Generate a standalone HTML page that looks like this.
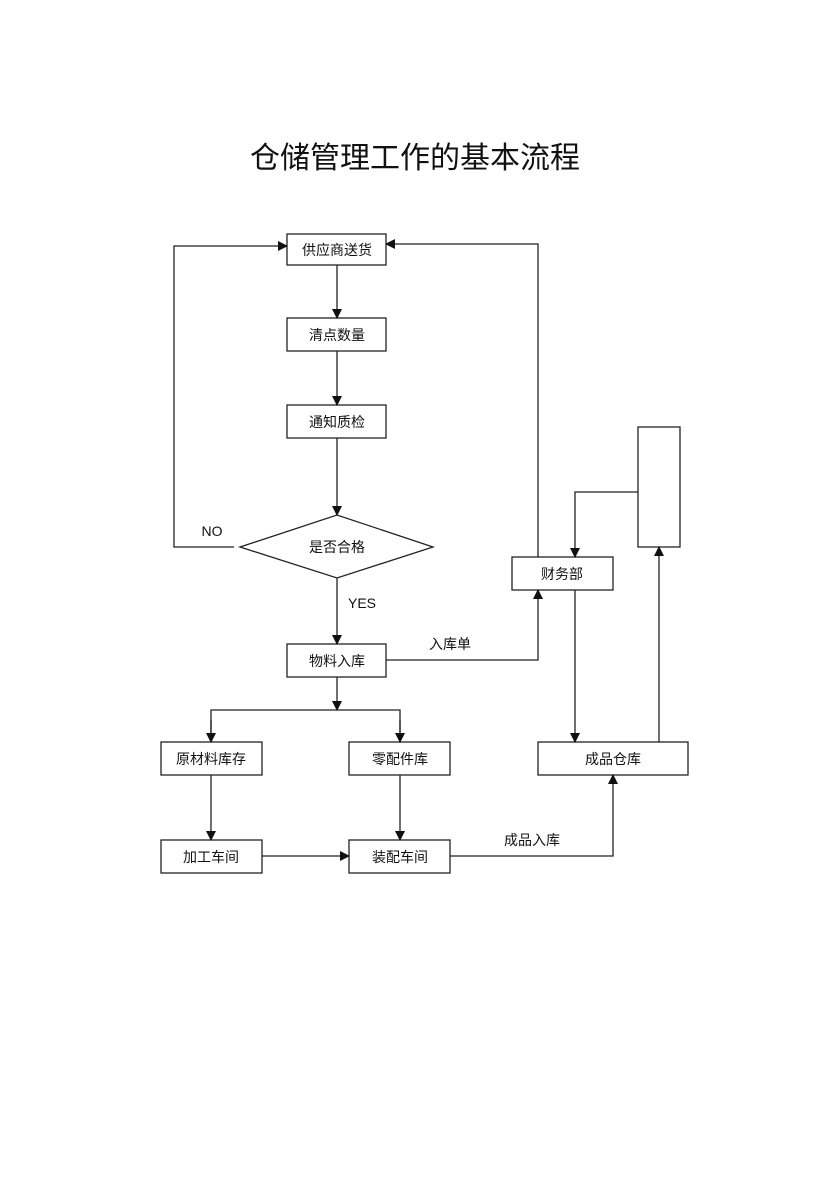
<!DOCTYPE html>
<html><head><meta charset="utf-8"><style>
html,body{margin:0;padding:0;background:#fff;}
svg text{font-family:"Liberation Sans","Noto Sans CJK SC",sans-serif;fill:#111;}
</style></head><body>
<svg width="830" height="1174" viewBox="0 0 830 1174" xmlns="http://www.w3.org/2000/svg">
<defs><marker id="a" markerWidth="10" markerHeight="10" refX="9" refY="5" orient="auto" markerUnits="userSpaceOnUse"><path d="M0,0 L10,5 L0,10 z" fill="#111"/></marker></defs>
<text x="415" y="168" font-size="30" text-anchor="middle">仓储管理工作的基本流程</text>
<g fill="#fff" stroke="#222" stroke-width="1.3">
<rect x="287" y="234" width="99" height="31"/>
<rect x="287" y="318" width="99" height="33"/>
<rect x="287" y="405" width="99" height="33"/>
<polygon points="240,547 337,515 433,547 337,578"/>
<rect x="512" y="557" width="101" height="33"/>
<rect x="638" y="427" width="42" height="120"/>
<rect x="287" y="644" width="99" height="33"/>
<rect x="161" y="742" width="101" height="33"/>
<rect x="349" y="742" width="101" height="33"/>
<rect x="538" y="742" width="150" height="33"/>
<rect x="161" y="840" width="101" height="33"/>
<rect x="349" y="840" width="101" height="33"/>
</g>
<g fill="none" stroke="#222" stroke-width="1.3">
<line x1="337" y1="265" x2="337" y2="318" marker-end="url(#a)"/>
<line x1="337" y1="351" x2="337" y2="405" marker-end="url(#a)"/>
<line x1="337" y1="438" x2="337" y2="515" marker-end="url(#a)"/>
<polyline points="234,547 174,547 174,246 287,246" marker-end="url(#a)"/>
<polyline points="538,557 538,244 386,244" marker-end="url(#a)"/>
<polyline points="638,492 575,492 575,557" marker-end="url(#a)"/>
<line x1="337" y1="578" x2="337" y2="644" marker-end="url(#a)"/>
<polyline points="386,660 538,660 538,590" marker-end="url(#a)"/>
<line x1="337" y1="677" x2="337" y2="710" marker-end="url(#a)"/>
<polyline points="211,742 211,710 400,710 400,742" />
<line x1="211" y1="720" x2="211" y2="742" marker-end="url(#a)"/>
<line x1="400" y1="720" x2="400" y2="742" marker-end="url(#a)"/>
<line x1="575" y1="590" x2="575" y2="742" marker-end="url(#a)"/>
<line x1="659" y1="742" x2="659" y2="547" marker-end="url(#a)"/>
<line x1="211" y1="775" x2="211" y2="840" marker-end="url(#a)"/>
<line x1="400" y1="775" x2="400" y2="840" marker-end="url(#a)"/>
<line x1="262" y1="856" x2="349" y2="856" marker-end="url(#a)"/>
<polyline points="450,856 613,856 613,775" marker-end="url(#a)"/>
</g>
<g font-size="14" text-anchor="middle">
<text x="337" y="255">供应商送货</text>
<text x="337" y="340">清点数量</text>
<text x="337" y="427">通知质检</text>
<text x="337" y="552">是否合格</text>
<text x="562" y="579">财务部</text>
<text x="337" y="666">物料入库</text>
<text x="211" y="764">原材料库存</text>
<text x="400" y="764">零配件库</text>
<text x="613" y="764">成品仓库</text>
<text x="211" y="862">加工车间</text>
<text x="400" y="862">装配车间</text>
<text x="212" y="536">NO</text>
<text x="362" y="608">YES</text>
<text x="450" y="649">入库单</text>
<text x="532" y="845">成品入库</text>
</g>
</svg>
</body></html>
